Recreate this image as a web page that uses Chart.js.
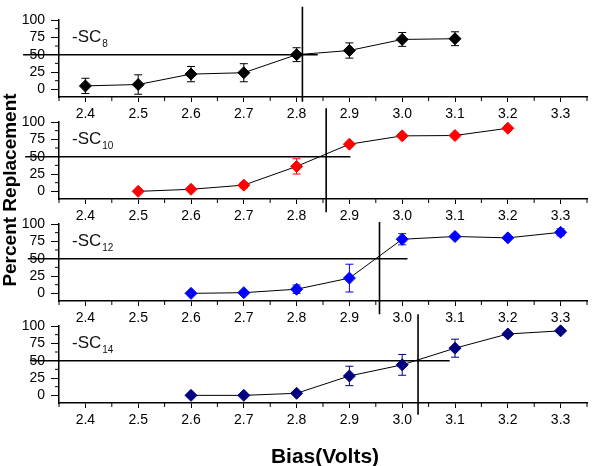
<!DOCTYPE html>
<html>
<head>
<meta charset="utf-8">
<script src="https://cdn.jsdelivr.net/npm/chart.js@4.4.0/dist/chart.umd.min.js"></script>
<style>
  body { margin: 0; background: #fff; }
  #wrap { position: relative; width: 594px; height: 466px; }
  #wrap canvas { position: absolute; left: 0; top: 0; }
</style>
</head>
<body>
<div id="wrap">
  <canvas id="p0" width="594" height="466"></canvas>
  <canvas id="p1" width="594" height="466"></canvas>
  <canvas id="p2" width="594" height="466"></canvas>
  <canvas id="p3" width="594" height="466"></canvas>
</div>
<script>
// data
var xTicks = [2.4, 2.5, 2.6, 2.7, 2.8, 2.9, 3.0, 3.1, 3.2, 3.3];
var yTicks = [0, 25, 50, 75, 100];

var names = ['8', '10', '12', '14'];
var colors = ['#000000', '#ff0000', '#0000ff', '#000080'];

var bias8 = [2.4, 2.5, 2.6, 2.7, 2.8, 2.9, 3.0, 3.1];
var pct8 = [5, 7, 22, 24, 50, 56, 72, 73];
var err8 = [11, 14, 11, 13, 10, 11, 10, 10];

var bias10 = [2.5, 2.6, 2.7, 2.8, 2.9, 3.0, 3.1, 3.2];
var pct10 = [0, 3, 9, 36, 68, 80, 80.5, 91];
var err10 = [0, 1, 4, 11, 3, 2, 2, 2];

var bias12 = [2.6, 2.7, 2.8, 2.9, 3.0, 3.1, 3.2, 3.3];
var pct12 = [0, 1, 6, 22, 78, 82, 80, 88];
var err12 = [0, 2, 6, 20, 8, 3, 2, 5];

var bias14 = [2.6, 2.7, 2.8, 2.9, 3.0, 3.1, 3.2, 3.3];
var pct14 = [0, 0, 3, 28, 44, 68, 88.5, 93];
var err14 = [0, 0, 2, 14, 15, 13, 2, 2];

// 50% line ends and crossing bias for each panel
var halfStart = [2.282, 2.286, 2.291, 2.295];
var halfEnd = [2.84, 2.902, 3.01, 3.09];
var crossX = [2.811, 2.856, 2.957, 3.03];
var crossTop = [119, 120, 103, 117];
var crossBottom = [-18, -30, -30, -28];

var series = [
  { x: bias8, y: pct8, e: err8 },
  { x: bias10, y: pct10, e: err10 },
  { x: bias12, y: pct12, e: err12 },
  { x: bias14, y: pct14, e: err14 }
];

var tops = [20, 122, 224, 326];
var plotH = 77;
var font = "Arial, 'Liberation Sans', sans-serif";

var errorBars = {
  id: 'errorBars',
  beforeDatasetsDraw: function(chart, args, opts) {
    var ctx = chart.ctx, xs = chart.scales.x, ys = chart.scales.y;
    var s = opts.s;
    ctx.save();
    ctx.strokeStyle = opts.color;
    ctx.lineWidth = 1;
    for (var i = 0; i < s.x.length; i++) {
      if (!s.e[i]) continue;
      var px = xs.getPixelForValue(s.x[i]);
      var y1 = ys.getPixelForValue(s.y[i] + s.e[i]);
      var y2 = ys.getPixelForValue(s.y[i] - s.e[i]);
      ctx.beginPath();
      ctx.moveTo(px, y1); ctx.lineTo(px, y2);
      ctx.moveTo(px - 4, y1); ctx.lineTo(px + 4, y1);
      ctx.moveTo(px - 4, y2); ctx.lineTo(px + 4, y2);
      ctx.stroke();
    }
    ctx.restore();
  }
};

var extras = {
  id: 'extras',
  afterDraw: function(chart, args, opts) {
    var ctx = chart.ctx, xs = chart.scales.x, ys = chart.scales.y;
    var a = chart.chartArea;
    ctx.save();
    ctx.strokeStyle = '#000';
    ctx.lineWidth = 1;
    // minor ticks
    ctx.beginPath();
    for (var v = 2.35; v < 3.36; v += 0.1) {
      var px = xs.getPixelForValue(v);
      ctx.moveTo(px, a.bottom); ctx.lineTo(px, a.bottom + 4);
    }
    for (var w = 12.5; w < 100; w += 25) {
      var py = ys.getPixelForValue(w);
      ctx.moveTo(a.left, py); ctx.lineTo(a.left - 4, py);
    }
    ctx.stroke();
    // panel label
    ctx.fillStyle = '#111';
    ctx.textBaseline = 'alphabetic';
    ctx.font = '17px ' + font;
    ctx.fillText('-SC', 72, a.top + 22);
    var wd = ctx.measureText('-SC').width;
    ctx.font = '10px ' + font;
    ctx.fillText(opts.sub, 72 + wd + 1, a.top + 27);
    // axis titles on first panel
    if (opts.titles) {
      ctx.fillStyle = '#000';
      ctx.textAlign = 'center';
      ctx.font = 'bold 21px ' + font;
      ctx.fillText('Bias(Volts)', 325, 463);
      ctx.font = 'bold 19px ' + font;
      ctx.translate(16, 190);
      ctx.rotate(-Math.PI / 2);
      ctx.fillText('Percent Replacement', 0, 0);
    }
    ctx.restore();
  }
};

document.querySelectorAll('#wrap canvas').forEach(function(cv, i) {
  var s = series[i];
  var pts = s.x.map(function(x, k) { return { x: x, y: s.y[k] }; });
  var top = tops[i];
  var bottom = top + plotH;
  new Chart(cv, {
    type: 'line',
    data: {
      datasets: [{
        data: pts,
        borderColor: '#000',
        borderWidth: 1,
        backgroundColor: colors[i],
        pointStyle: 'rectRot',
        pointRadius: 6,
        pointBorderWidth: 1,
        pointBorderColor: colors[i],
        pointBackgroundColor: colors[i],
        clip: false
      }, {
        data: [{ x: halfStart[i], y: 50 }, { x: halfEnd[i], y: 50 }],
        borderColor: '#000',
        borderWidth: 1.6,
        pointRadius: 0,
        clip: false
      }, {
        data: [{ x: crossX[i], y: crossTop[i] }, { x: crossX[i], y: crossBottom[i] }],
        borderColor: '#000',
        borderWidth: 1.6,
        pointRadius: 0,
        clip: false
      }]
    },
    options: {
      responsive: false,
      animation: false,
      layout: { padding: { top: top, left: 0, right: 3, bottom: 0 } },
      plugins: {
        legend: { display: false },
        tooltip: { enabled: false },
        errorBars: { s: s, color: colors[i] },
        extras: { sub: names[i], titles: i === 0 }
      },
      scales: {
        x: {
          type: 'linear',
          min: 2.35,
          max: 3.35,
          afterBuildTicks: function(sc) { sc.ticks = xTicks.map(function(v) { return { value: v }; }); },
          afterFit: function(sc) { sc.height = 466 - bottom; },
          ticks: {
            autoSkip: false,
            maxRotation: 0,
            padding: 4,
            color: '#000',
            font: { family: font, size: 14 },
            callback: function(v) { return v.toFixed(1); }
          },
          grid: { drawOnChartArea: false, tickLength: 5, tickColor: '#000', tickWidth: 1 },
          border: { color: '#000', width: 1.5 }
        },
        y: {
          min: -11,
          max: 100,
          afterBuildTicks: function(sc) { sc.ticks = yTicks.map(function(v) { return { value: v }; }); },
          afterFit: function(sc) { sc.width = 59; },
          ticks: {
            autoSkip: false,
            padding: 6,
            color: '#000',
            font: { family: font, size: 14 },
            callback: function(v) { return String(v); }
          },
          grid: { drawOnChartArea: false, tickLength: 8, tickColor: '#000', tickWidth: 1 },
          border: { color: '#000', width: 1.5 }
        }
      }
    },
    plugins: [errorBars, extras]
  });
});
</script>
</body>
</html>
